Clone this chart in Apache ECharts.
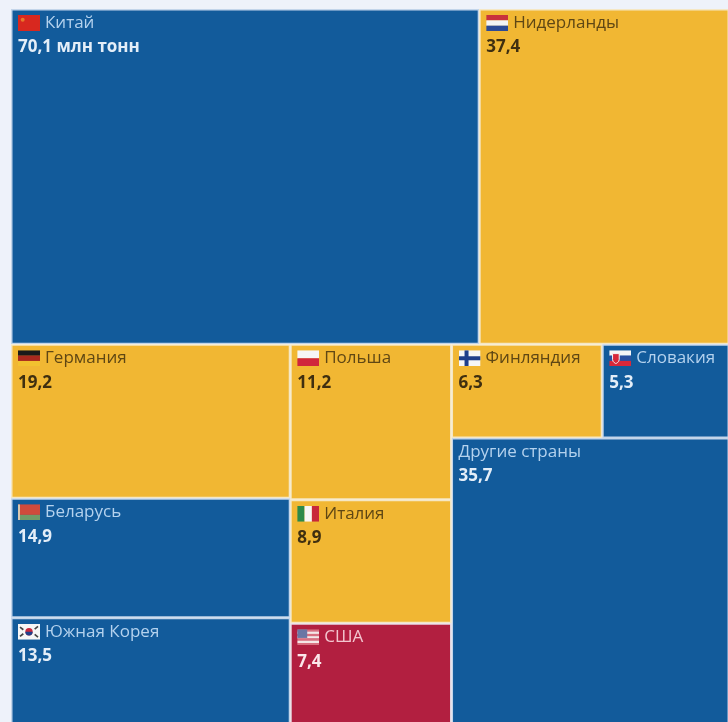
<!DOCTYPE html>
<html>
<head>
<meta charset="utf-8">
<style>
  html, body { margin: 0; padding: 0; background: #eef2fa; }
  #chart { width: 728px; height: 722px; overflow: hidden; }
</style>
<script src="https://cdn.jsdelivr.net/npm/echarts@6/dist/echarts.min.js"></script>
</head>
<body>
<div id="chart"></div>
<script>
// Импорт по странам, млн тонн
const countries = ['Китай', 'Нидерланды', 'Германия', 'Беларусь', 'Южная Корея', 'Польша', 'Италия', 'США', 'Финляндия', 'Словакия', 'Другие страны'];
const volumes = [70.1, 37.4, 19.2, 14.9, 13.5, 11.2, 8.9, 7.4, 6.3, 5.3, 35.7];
const fills = ['blue', 'yellow', 'yellow', 'blue', 'blue', 'yellow', 'yellow', 'red', 'yellow', 'blue', 'blue'];
const flagKeys = ['cn', 'nl', 'de', 'by', 'kr', 'pl', 'it', 'us', 'fi', 'sk', null];

const palette = {
  blue: { bg: '#125b9b', name: '#b4d2ee', value: '#e4eef8', line: '#c3d5ea' },
  yellow: { bg: '#f1b733', name: '#5f4714', value: '#3f2f10', line: '#f5e7c4' },
  red: { bg: '#b21f40', name: '#f3c6cf', value: '#fbe6ea', line: '#e8dce4' }
};

// Маленькие флаги в виде SVG
function svg(body) {
  return 'data:image/svg+xml;charset=utf-8,' + encodeURIComponent(
    '<svg xmlns="http://www.w3.org/2000/svg" width="66" height="48" viewBox="0 0 66 48">' + body + '</svg>');
}
function bars(colors) {
  const h = 48 / colors.length;
  return colors.map((c, i) => `<rect y="${i * h}" width="66" height="${h + 0.5}" fill="${c}"/>`).join('');
}
const flags = {
  cn: svg('<rect width="66" height="48" fill="#d8281f"/><circle cx="14" cy="14" r="6" fill="#e8782a"/>'),
  nl: svg(bars(['#c8323c', '#f4f4f4', '#2c4a96'])),
  de: svg(bars(['#1a1a1a', '#a8281e', '#f2c230'])),
  by: svg('<rect width="66" height="32" fill="#cf4a3c"/><rect y="32" width="66" height="16" fill="#6f9a68"/><rect width="6" height="48" fill="#d8c8b0"/>'),
  kr: svg('<rect width="66" height="48" fill="#f6f6f6"/><circle cx="33" cy="24" r="11" fill="#c8283c"/><path d="M22 24a11 11 0 0 0 22 0z" fill="#1f3f8a"/><path d="M6 10l10 8M50 32l10 8M6 38l10-8M50 16l10-8" stroke="#444" stroke-width="5"/>'),
  pl: svg(bars(['#f6f6f6', '#d0263c'])),
  it: svg('<rect width="22" height="48" fill="#2c8a4a"/><rect x="22" width="22" height="48" fill="#f6f6f6"/><rect x="44" width="22" height="48" fill="#c8283a"/>'),
  us: svg(bars(['#d87080', '#f4e8e8', '#d87080', '#f4e8e8', '#d87080', '#f4e8e8', '#d87080']) + '<rect width="30" height="26" fill="#6a76a4"/>'),
  fi: svg('<rect width="66" height="48" fill="#f6f6f6"/><rect x="18" width="12" height="48" fill="#1f3f8a"/><rect y="18" width="66" height="12" fill="#1f3f8a"/>'),
  sk: svg(bars(['#f6f6f6', '#2a50a0', '#d8283a']) + '<path d="M10 10h20v18c0 8-10 12-10 12s-10-4-10-12z" fill="#d8283a" stroke="#f6f6f6" stroke-width="3"/>')
};

// Подпись значения с десятичной запятой
function valueText(i) {
  const s = volumes[i].toFixed(1).replace('.', ',');
  return i === 0 ? s + ' млн тонн' : s;
}

function leaf(i) {
  const p = palette[fills[i]];
  const key = flagKeys[i];
  const first = key ? `{${key}|}{gap|}{n|${countries[i]}}` : `{n|${countries[i]}}`;
  return {
    name: countries[i],
    value: volumes[i],
    itemStyle: { color: p.bg, borderColor: p.line, borderWidth: 1.5 },
    label: {
      formatter: first + `\n{v|${valueText(i)}}`,
      rich: {
        n: { fontFamily: 'Open Sans', fontSize: 17, color: p.name, lineHeight: 18 },
        v: { fontFamily: 'Open Sans', fontSize: 17, fontWeight: 'bold', color: p.value, lineHeight: 31 },
        gap: { width: 5 }
      }
    }
  };
}
const group = (...children) => ({ name: '', children });

// Иерархия блоков: верхний ряд и три колонки нижнего ряда
const tree = [
  group(leaf(0), leaf(1)),
  group(
    group(
      group(group(leaf(2), leaf(3)), leaf(4)),
      group(leaf(5), leaf(6), leaf(7))
    ),
    group(group(leaf(8), leaf(9)), leaf(10))
  )
];

const flagRich = {};
Object.keys(flags).forEach(k => {
  flagRich[k] = { width: 22, height: 16, backgroundColor: { image: flags[k] } };
});

const chart = echarts.init(document.getElementById('chart'), null, { renderer: 'canvas' });
chart.setOption({
  backgroundColor: '#eef2fa',
  animation: false,
  series: [{
    type: 'treemap',
    left: 11,
    top: 9,
    width: 718,
    height: 717,
    sort: null,
    squareRatio: 1.27,
    roam: false,
    nodeClick: false,
    silent: true,
    breadcrumb: { show: false },
    visibleMin: 0,
    childrenVisibleMin: 0,
    label: {
      show: true,
      position: [5.5, 3.5],
      padding: 0,
      overflow: 'none',
      rich: flagRich
    },
    upperLabel: { show: false },
    itemStyle: { borderWidth: 0, gapWidth: 0 },
    levels: [],
    data: tree
  }]
});
</script>
</body>
</html>
